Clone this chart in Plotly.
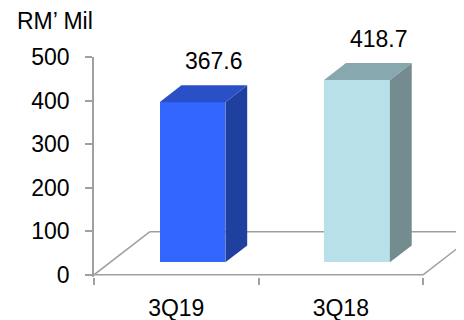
import plotly.graph_objects as go

# ---- data ----
categories = ["3Q19", "3Q18"]
values = [367.6, 418.7]
y_tick_vals = [0, 100, 200, 300, 400, 500]
unit_label = "RM\u2019 Mil"

# ---- styles ----
front_colors = ["#3366FF", "#B8E0E8"]
top_colors = ["#2A50C8", "#88A8B0"]
side_colors = ["#2040A0", "#748C90"]
line_gray = "#A0A0A0"
FONT = "Liberation Sans, Arial, sans-serif"
FS = 23

# 3D geometry (in data units)
DX, DY = 0.34, 99.0          # floor depth vector
F_FRONT, F_BACK = 0.29, 0.68  # bar front/back plane as fraction of floor depth
BAR_W = 0.40
X0, X1 = -0.5, 1.5            # floor extent (category bounds)
XR = [-0.5, 1.749]
YR = [-5, 500]
LABEL_SHIFT = 9  # px

fig = go.Figure()

fx = F_FRONT * DX
fy = F_FRONT * DY
bdx = (F_BACK - F_FRONT) * DX
bdy = (F_BACK - F_FRONT) * DY

xs = [i + fx for i in range(len(categories))]

# front faces
fig.add_trace(go.Bar(
    x=xs, y=values, base=[fy] * len(values), width=BAR_W,
    marker=dict(color=front_colors, line=dict(width=0)),
    hoverinfo="skip", showlegend=False,
))

# side and top faces
for i, v in enumerate(values):
    xl = xs[i] - BAR_W / 2
    xr = xs[i] + BAR_W / 2
    yb = fy
    yt = fy + v
    fig.add_trace(go.Scatter(
        x=[xr, xr, xr + bdx, xr + bdx, xr],
        y=[yb, yt, yt + bdy, yb + bdy, yb],
        fill="toself", fillcolor=side_colors[i], mode="lines",
        line=dict(width=0), hoverinfo="skip", showlegend=False,
    ))
    fig.add_trace(go.Scatter(
        x=[xl, xr, xr + bdx, xl + bdx, xl],
        y=[yt, yt, yt + bdy, yt + bdy, yt],
        fill="toself", fillcolor=top_colors[i], mode="lines",
        line=dict(width=0), hoverinfo="skip", showlegend=False,
    ))
    # value label above back-top centre
    fig.add_annotation(
        x=xs[i] + bdx, y=yt + bdy, xref="x", yref="y",
        text=f"{v:.1f}", showarrow=False, xanchor="center", yanchor="bottom",
        yshift=LABEL_SHIFT,
        font=dict(size=FS, color="#000000", family=FONT),
    )

# floor outline (below traces)
lw = 1.5
floor_segments = [
    (X0, 0, X1, 0),
    (X0, 0, X0 + DX, DY),
    (X1, 0, X1 + DX, DY),
    (X0 + DX, DY, X1 + DX, DY),
]
for (a, b, c, d) in floor_segments:
    fig.add_shape(type="line", xref="x", yref="y", x0=a, y0=b, x1=c, y1=d,
                  line=dict(color=line_gray, width=lw), layer="below")

fig.add_annotation(
    text=unit_label, xref="paper", yref="paper", x=-0.214, y=1.165,
    xanchor="left", yanchor="middle", showarrow=False,
    font=dict(size=FS, color="#000000", family=FONT),
)

fig.update_layout(
    width=456, height=312,
    margin=dict(l=86, r=0, t=49, b=43, autoexpand=False),
    paper_bgcolor="white", plot_bgcolor="white",
    bargap=0,
    xaxis=dict(
        range=XR, tickmode="array", tickvals=list(range(len(categories))),
        ticktext=categories, ticks="", showgrid=False, zeroline=False,
        showline=False, ticklabelstandoff=15, automargin=False,
        tickfont=dict(size=FS, color="#000000", family=FONT),
        minor=dict(tickmode="array", tickvals=[X0, 0.5, X1], ticks="outside",
                   ticklen=7, tickcolor=line_gray, tickwidth=lw, showgrid=False),
    ),
    yaxis=dict(
        range=YR, tickmode="array", tickvals=y_tick_vals, ticks="outside",
        ticklen=7, tickcolor=line_gray, tickwidth=lw,
        showline=True, linecolor=line_gray, linewidth=lw, automargin=False,
        showgrid=False, zeroline=False, ticklabelstandoff=11,
        tickfont=dict(size=FS, color="#000000", family=FONT),
    ),
)

fig.write_html("out.html")
